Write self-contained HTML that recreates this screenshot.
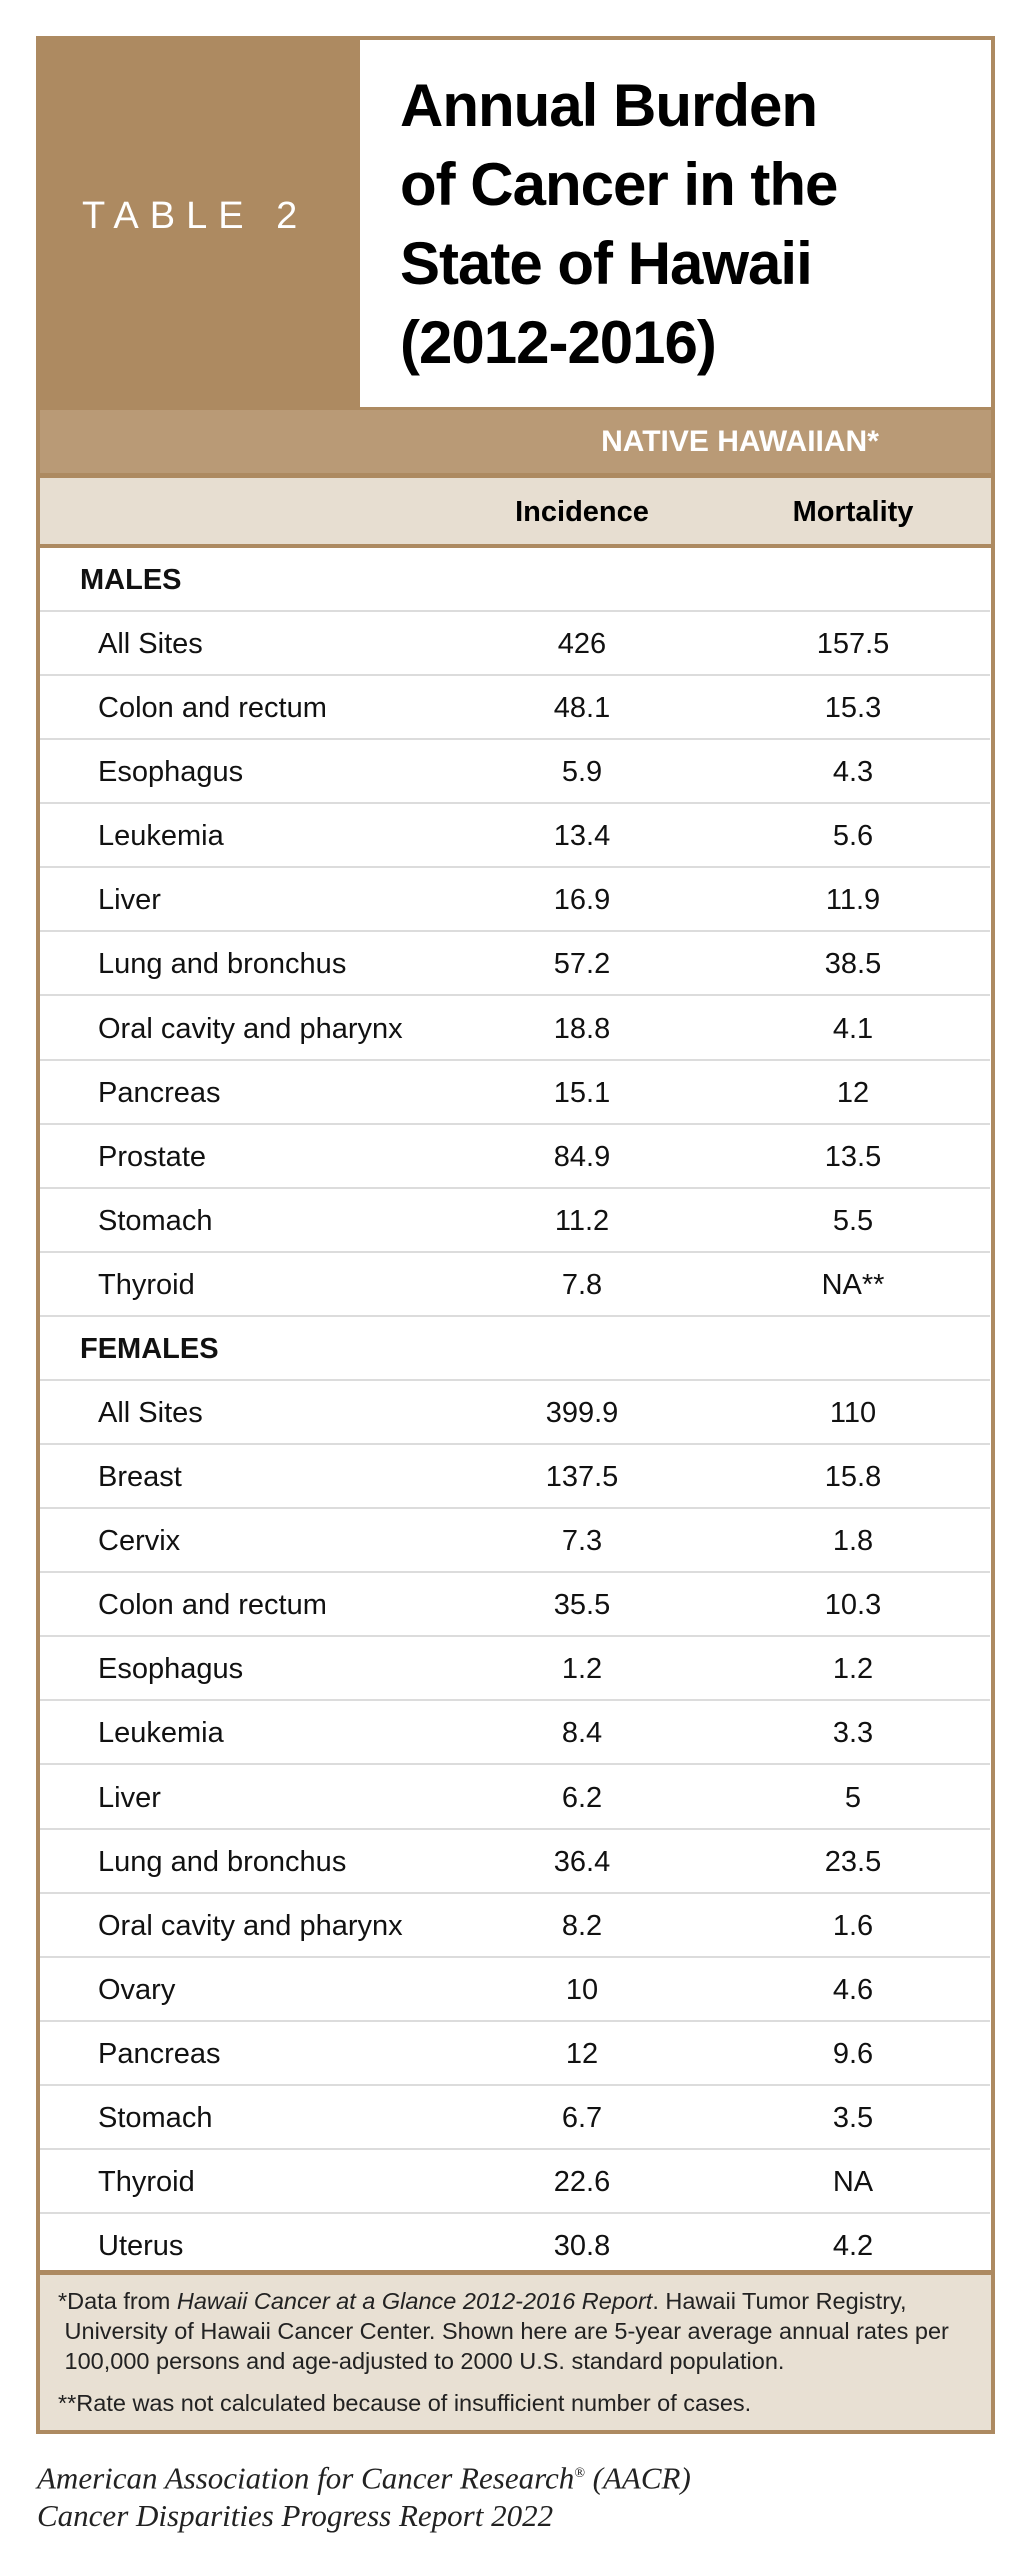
<!DOCTYPE html>
<html><head><meta charset="utf-8"><style>
body{margin:0;width:1027px;height:2560px;background:#fff;position:relative;font-family:"Liberation Sans",sans-serif;overflow:hidden}
.a{position:absolute}
.row{position:absolute;left:40px;width:950px;height:64px;border-bottom:2px solid #dcdcdc;box-sizing:border-box;font-size:29px;color:#111}
.row span{position:absolute;top:16px;line-height:32px}
.l{left:58px}.i{left:462px;width:160px;text-align:center}.m{left:713px;width:200px;text-align:center}
.sec span{left:40px;font-weight:bold}
</style></head><body>
<div class="a" style="left:36px;top:36px;width:959px;height:2398px;box-sizing:border-box;border:4px solid #ad8a61;"></div>
<div class="a" style="left:40px;top:40px;width:320px;height:369px;background:#ad8a61"></div>
<div class="a" style="left:82px;top:194px;color:#fff;font-size:38px;letter-spacing:11px;line-height:44px">TABLE 2</div>
<div class="a" style="left:400px;top:66px;font-size:60px;font-weight:bold;line-height:79px;color:#000;letter-spacing:-1px">Annual Burden<br>of Cancer in the<br>State of Hawaii<br>(2012-2016)</div>
<div class="a" style="left:40px;top:407px;width:951px;height:5px;background:#ad8a61"></div>
<div class="a" style="left:40px;top:410px;width:951px;height:64px;background:#b99a76"></div>
<div class="a" style="left:40px;top:473px;width:951px;height:5px;background:#ad8a61"></div>
<div class="a" style="left:440px;top:424px;width:600px;text-align:center;color:#fff;font-weight:bold;font-size:30px;line-height:36px">NATIVE HAWAIIAN*</div>
<div class="a" style="left:40px;top:478px;width:951px;height:66px;background:#e7ded1"></div>
<div class="a" style="left:40px;top:544px;width:951px;height:4px;background:#ad8a61"></div>
<div class="a" style="left:462px;top:496px;width:240px;text-align:center;font-weight:bold;font-size:29px;line-height:32px">Incidence</div>
<div class="a" style="left:753px;top:496px;width:200px;text-align:center;font-weight:bold;font-size:29px;line-height:32px">Mortality</div>
<div id="rows"></div>
<div class="a" style="left:40px;top:2270px;width:951px;height:5px;background:#ad8a61"></div>
<div class="a" style="left:40px;top:2275px;width:951px;height:155px;background:#e8e0d3"></div>
<div class="a" style="left:58px;top:2286px;width:925px;font-size:23.5px;line-height:30px;color:#222;white-space:nowrap">*Data from <i>Hawaii Cancer at a Glance 2012-2016 Report</i>. Hawaii Tumor Registry,<br>&nbsp;University of Hawaii Cancer Center. Shown here are 5-year average annual rates per<br>&nbsp;100,000 persons and age-adjusted to 2000 U.S. standard population.</div>
<div class="a" style="left:58px;top:2388px;font-size:23.5px;line-height:30px;color:#222">**Rate was not calculated because of insufficient number of cases.</div>
<div class="a" style="left:37px;top:2455px;font-family:'Liberation Serif',serif;font-style:italic;font-size:31px;line-height:38px;color:#222">American Association for Cancer Research<sup style="font-size:14px">®</sup> (AACR)<br>Cancer Disparities Progress Report 2022</div>
<script>
var d=[["MALES"],["All Sites","426","157.5"],["Colon and rectum","48.1","15.3"],["Esophagus","5.9","4.3"],["Leukemia","13.4","5.6"],["Liver","16.9","11.9"],["Lung and bronchus","57.2","38.5"],["Oral cavity and pharynx","18.8","4.1"],["Pancreas","15.1","12"],["Prostate","84.9","13.5"],["Stomach","11.2","5.5"],["Thyroid","7.8","NA**"],["FEMALES"],["All Sites","399.9","110"],["Breast","137.5","15.8"],["Cervix","7.3","1.8"],["Colon and rectum","35.5","10.3"],["Esophagus","1.2","1.2"],["Leukemia","8.4","3.3"],["Liver","6.2","5"],["Lung and bronchus","36.4","23.5"],["Oral cavity and pharynx","8.2","1.6"],["Ovary","10","4.6"],["Pancreas","12","9.6"],["Stomach","6.7","3.5"],["Thyroid","22.6","NA"],["Uterus","30.8","4.2"]];
var h="";for(var k=0;k<d.length;k++){var t=548+k*64.08;var r=d[k];var last=k==d.length-1?"border-bottom:none;":"";
if(r.length==1)h+='<div class="row sec" style="top:'+t+'px;'+last+'"><span>'+r[0]+'</span></div>';
else h+='<div class="row" style="top:'+t+'px;'+last+'"><span class="l">'+r[0]+'</span><span class="i">'+r[1]+'</span><span class="m">'+r[2]+'</span></div>';}
document.getElementById("rows").innerHTML=h;
</script>
</body></html>
